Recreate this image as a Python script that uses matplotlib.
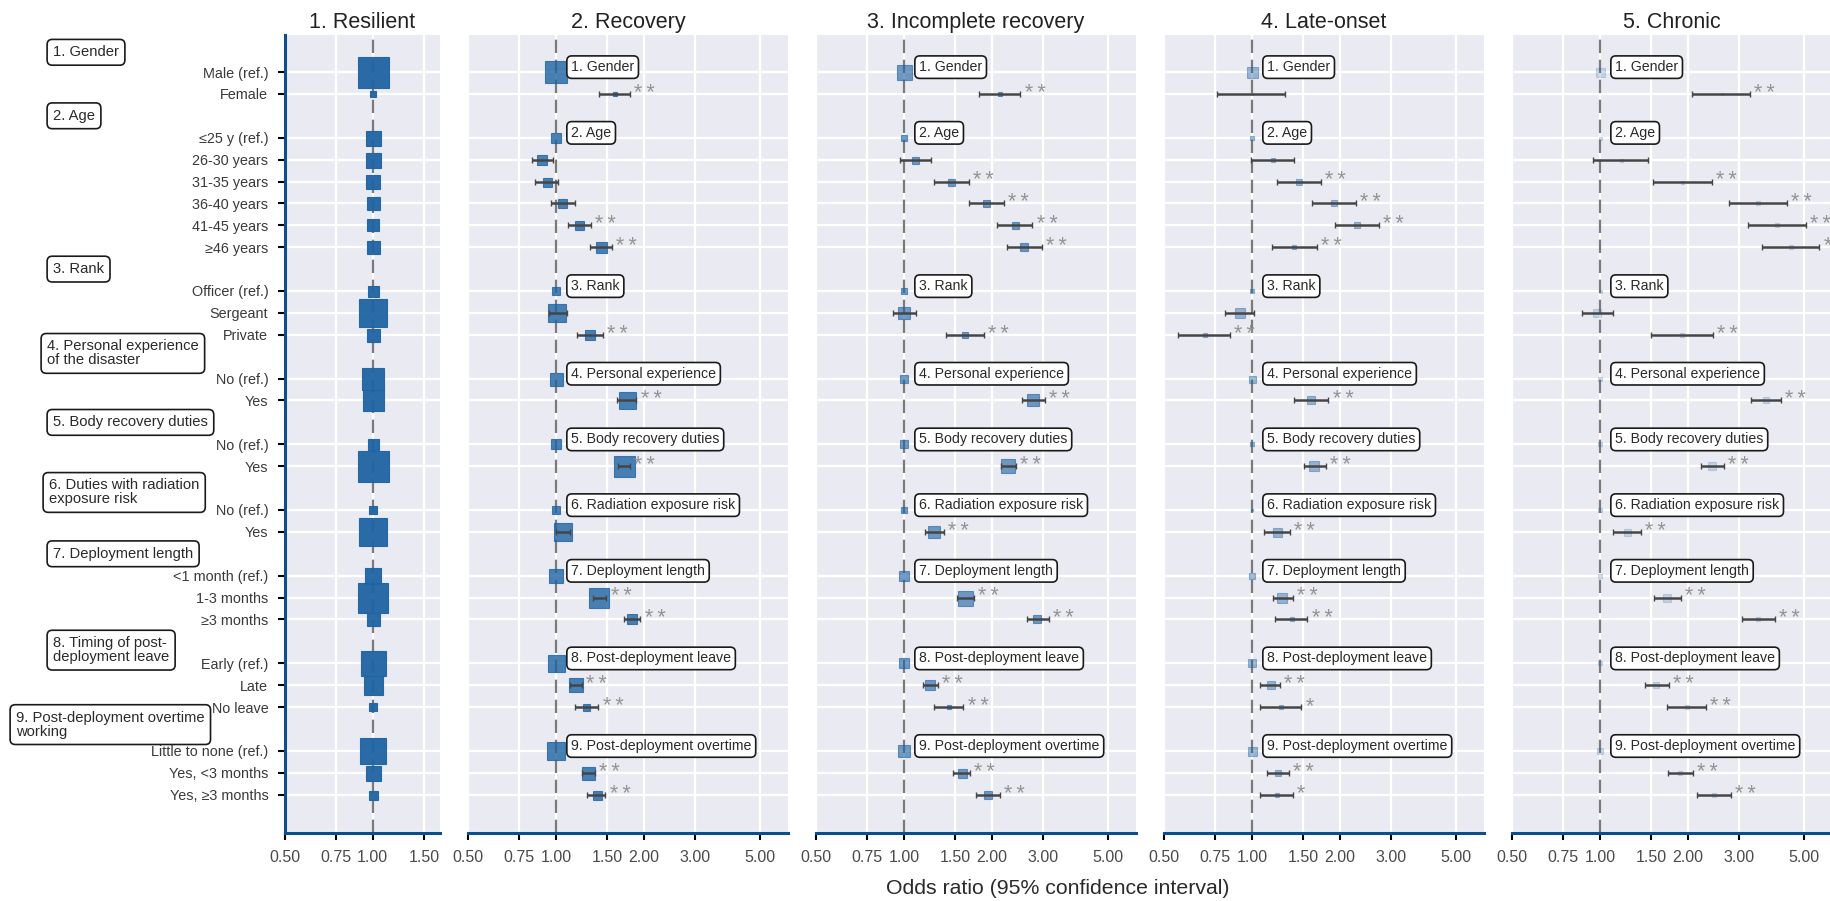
import numpy as np
import matplotlib.pyplot as plt
from matplotlib.ticker import FixedLocator, NullLocator

plt.rcParams['font.family'] = ['Liberation Sans', 'DejaVu Sans']

nan = np.nan

# ---- data -------------------------------------------------------------
groups = ["1. Gender", "2. Age", "3. Rank", "4. Personal experience",
          "5. Body recovery duties", "6. Radiation exposure risk",
          "7. Deployment length", "8. Post-deployment leave",
          "9. Post-deployment overtime"]
group_long = ["1. Gender", "2. Age", "3. Rank",
              "4. Personal experience\nof the disaster",
              "5. Body recovery duties",
              "6. Duties with radiation\nexposure risk",
              "7. Deployment length",
              "8. Timing of post-\ndeployment leave",
              "9. Post-deployment overtime\nworking"]
group_n = [2, 6, 3, 2, 2, 2, 3, 3, 3]

categories = ["Male (ref.)", "Female",
              "≤25 y (ref.)", "26-30 years", "31-35 years", "36-40 years",
              "41-45 years", "≥46 years",
              "Officer (ref.)", "Sergeant", "Private",
              "No (ref.)", "Yes",
              "No (ref.)", "Yes",
              "No (ref.)", "Yes",
              "<1 month (ref.)", "1-3 months", "≥3 months",
              "Early (ref.)", "Late", "No leave",
              "Little to none (ref.)", "Yes, <3 months", "Yes, ≥3 months"]

titles = ["1. Resilient", "2. Recovery", "3. Incomplete recovery",
          "4. Late-onset", "5. Chronic"]

# resilient class: reference, only the block sizes
res_size = [31, 6, 15, 15, 14, 13, 12, 13, 11, 28, 13, 23, 21, 11, 31, 8,
            28, 16, 30, 13, 25, 19, 8, 27, 15, 9]

rec_or = [1, 1.59, 1, 0.90, 0.93, 1.05, 1.20, 1.43, 1, 1.01, 1.31, 1, 1.75,
          1, 1.71, 1, 1.06, 1, 1.41, 1.83, 1, 1.17, 1.27, 1, 1.29, 1.38]
rec_lo = [nan, 1.41, nan, 0.83, 0.85, 0.96, 1.10, 1.31, nan, 0.945, 1.18,
          nan, 1.62, nan, 1.64, nan, 1.00, nan, 1.34, 1.71, nan, 1.12, 1.16,
          nan, 1.23, 1.28]
rec_hi = [nan, 1.80, nan, 0.98, 1.02, 1.16, 1.32, 1.56, nan, 1.09, 1.45,
          nan, 1.89, nan, 1.79, nan, 1.12, nan, 1.49, 1.95, nan, 1.23, 1.40,
          nan, 1.36, 1.48]
rec_size = [22, 5, 10, 10, 9, 9, 9, 11, 8, 18.5, 10, 13, 17, 9.5, 21, 7.5,
            17.5, 14, 20, 10, 17, 14, 7, 17.5, 13, 9]
rec_sig = ["", "**", "", "", "", "", "**", "**", "", "", "**", "", "**", "",
           "**", "", "", "", "**", "**", "", "**", "**", "", "**", "**"]

inc_or = [1, 2.13, 1, 1.09, 1.45, 1.92, 2.40, 2.59, 1, 1.00, 1.62, 1, 2.77,
          1, 2.27, 1, 1.27, 1, 1.62, 2.87, 1, 1.23, 1.43, 1, 1.58, 1.94]
inc_lo = [nan, 1.81, nan, 0.97, 1.27, 1.67, 2.09, 2.26, nan, 0.92, 1.39,
          nan, 2.54, nan, 2.15, nan, 1.18, nan, 1.52, 2.65, nan, 1.16, 1.27,
          nan, 1.48, 1.77]
inc_hi = [nan, 2.51, nan, 1.24, 1.67, 2.21, 2.76, 2.98, nan, 1.10, 1.88,
          nan, 3.05, nan, 2.43, nan, 1.37, nan, 1.74, 3.15, nan, 1.31, 1.60,
          nan, 1.69, 2.14]
inc_size = [15, 4, 6, 7, 7, 7, 7, 8, 6, 12, 6, 8, 11.5, 8, 14, 6, 11.5, 10,
            15, 8, 10.5, 10.5, 5, 11.5, 9, 8]
inc_sig = ["", "**", "", "", "**", "**", "**", "**", "", "", "**", "", "**",
           "", "**", "", "**", "", "**", "**", "", "**", "**", "", "**", "**"]

late_or = [1, 1.0, 1, 1.18, 1.45, 1.91, 2.30, 1.40, 1, 0.91, 0.69, 1, 1.60,
           1, 1.64, 1, 1.22, 1, 1.27, 1.37, 1, 1.16, 1.26, 1, 1.23, 1.22]
late_lo = [nan, 0.76, nan, 0.99, 1.22, 1.61, 1.93, 1.17, nan, 0.81, 0.56,
           nan, 1.39, nan, 1.51, nan, 1.10, nan, 1.18, 1.20, nan, 1.07, 1.07,
           nan, 1.13, 1.07]
late_hi = [nan, 1.30, nan, 1.39, 1.72, 2.28, 2.72, 1.67, nan, 1.02, 0.84,
           nan, 1.83, nan, 1.79, nan, 1.35, nan, 1.38, 1.55, nan, 1.25, 1.48,
           nan, 1.34, 1.38]
late_size = [11, 1.5, 5, 5, 6, 6, 6, 5, 5, 9.5, 3.5, 7, 8, 3.5, 10.5, 2.6, 9,
             6, 10.5, 4, 8, 8, 3.5, 9, 6, 3.5]
late_sig = ["", "", "", "", "**", "**", "**", "**", "", "", "**", "", "**",
            "", "**", "", "**", "", "**", "**", "", "**", "*", "", "**", "*"]

chr_or = [1, 2.62, 1, 1.18, 1.92, 3.49, 4.05, 4.51, 1, 0.98, 1.91, 1, 3.71,
          1, 2.43, 1, 1.24, 1, 1.70, 3.49, 1, 1.56, 1.99, 1, 1.89, 2.47]
chr_lo = [nan, 2.07, nan, 0.95, 1.52, 2.77, 3.21, 3.59, nan, 0.87, 1.50,
          nan, 3.30, nan, 2.22, nan, 1.11, nan, 1.53, 3.08, nan, 1.43, 1.70,
          nan, 1.71, 2.16]
chr_hi = [nan, 3.28, nan, 1.46, 2.43, 4.39, 5.10, 5.66, nan, 1.11, 2.44,
          nan, 4.17, nan, 2.67, nan, 1.38, nan, 1.90, 3.97, nan, 1.72, 2.31,
          nan, 2.09, 2.81]
chr_size = [9, 2, 3, 3, 3, 4, 4, 4, 3, 8, 3.5, 5, 6, 4, 8.7, 3.5, 7, 4.5, 8.7,
            4.5, 5, 6, 4.5, 6, 4.5, 3.5]
chr_sig = ["", "**", "", "", "**", "**", "**", "**", "", "", "**", "", "**",
           "", "**", "", "**", "", "**", "**", "", "**", "**", "", "**", "**"]

xticks_small = [0.5, 0.75, 1.0, 1.5]
xticks_big = [0.5, 0.75, 1.0, 1.5, 2.0, 3.0, 5.0]

# ---- layout -----------------------------------------------------------
# row positions: a blank header row before every group
rows, ref_rows, pos = [], [], 0
for g, n in enumerate(group_n):
    if g > 0:
        pos += 1
    ref_rows.append(pos)
    rows.extend(range(pos, pos + n))
    pos += n
rows = np.array(rows, dtype=float)
head_rows = [-0.9, 2, 9, 12.85, 16, 19.2, 22, 26.4, 29.8]
head_x = [53, 53, 53, 47, 53, 49, 53, 53, 16]

W, H = 1831, 901
top, bottom = 35, 833
lefts = [285, 468, 816, 1164, 1512]
widths = [155, 320, 320, 320, 320]
xmax = [1.70, 6.25, 6.25, 6.25, 6.25]
alphas = [0.95, 0.8, 0.62, 0.42, 0.2]
blue = '#1f64a3'
spine_blue = '#0d4f8e'

fig = plt.figure(figsize=(W / 100, H / 100), dpi=100)

panels = [
    (np.ones(len(categories)), None, None, res_size, None),
    (rec_or, rec_lo, rec_hi, rec_size, rec_sig),
    (inc_or, inc_lo, inc_hi, inc_size, inc_sig),
    (late_or, late_lo, late_hi, late_size, late_sig),
    (chr_or, chr_lo, chr_hi, chr_size, chr_sig),
]

for i, (orv, lo, hi, size, sig) in enumerate(panels):
    ax = fig.add_axes([lefts[i] / W, 1 - bottom / H, widths[i] / W,
                       (bottom - top) / H])
    ax.set_facecolor('#eaeaf2')
    ax.set_xscale('log')
    ax.set_xlim(0.5, xmax[i])
    ax.set_ylim(34.75, -1.69)
    ticks = xticks_small if i == 0 else xticks_big
    ax.xaxis.set_major_locator(FixedLocator(ticks))
    ax.xaxis.set_minor_locator(NullLocator())
    ax.set_xticklabels(['%.2f' % t for t in ticks])
    ax.set_yticks(rows)
    ax.grid(True, color='white', lw=1.6)
    ax.set_axisbelow(True)
    for s in ['top', 'right', 'left']:
        ax.spines[s].set_visible(False)
    ax.spines['bottom'].set_color(spine_blue)
    ax.spines['bottom'].set_linewidth(2.2)
    ax.tick_params(axis='x', length=5, width=1.5, color='black',
                   labelsize=11.5, labelcolor='#4a4a4a', pad=7)
    if i == 0:
        ax.spines['left'].set_visible(True)
        ax.spines['left'].set_color(spine_blue)
        ax.spines['left'].set_linewidth(2.2)
        ax.set_yticklabels(categories)
        ax.tick_params(axis='y', length=5, width=1.5, color='black',
                       labelsize=10.4, labelcolor='#3a3a3a', pad=7)
    else:
        ax.tick_params(axis='y', length=0, labelleft=False)

    ax.set_title(titles[i], fontsize=15.5, color='#222222', pad=5)
    ax.axvline(1, color='#7a7a7a', ls=(0, (6, 3)), lw=1.6, zorder=1.5)

    orv = np.asarray(orv, dtype=float)
    for x, y, s in zip(orv, rows, size):
        ax.plot([x], [y], ls='none', marker='s', ms=s * 0.72, color=blue,
                mec=blue, mew=0.8, alpha=alphas[i], zorder=2)

    if lo is not None:
        lo = np.asarray(lo, dtype=float)
        hi = np.asarray(hi, dtype=float)
        m = ~np.isnan(lo)
        ax.errorbar(orv[m], rows[m], xerr=[orv[m] - lo[m], hi[m] - orv[m]],
                    fmt='none', ecolor='#454545', elinewidth=1.8, capsize=2.5,
                    capthick=1.0, zorder=3)
        for x, y, s in zip(hi, rows, sig):
            if s:
                ax.annotate('\u2009'.join(s), xy=(x, y), xytext=(3, -3.5),
                            textcoords='offset points', ha='left',
                            va='baseline', fontsize=15.5, color='#939393')
        for g, r in zip(groups, ref_rows):
            ax.annotate(g, xy=(1, r), xytext=(11, 3.5),
                        textcoords='offset points', ha='left', va='center',
                        fontsize=10.2, color='#2a2a2a', zorder=5,
                        bbox=dict(boxstyle='round,pad=0.3,rounding_size=0.35',
                                  fc='white', ec='#1a1a1a', lw=1.2))
    else:
        for g, r, hx in zip(group_long, head_rows, head_x):
            ax.annotate(g, xy=(hx, r), xycoords=('figure pixels', 'data'),
                        ha='left', va='center', fontsize=10.6,
                        color='#2a2a2a', linespacing=1.0,
                        annotation_clip=False,
                        bbox=dict(boxstyle='round,pad=0.4,rounding_size=0.35',
                                  fc='white', ec='#1a1a1a', lw=1.2))

fig.text(1058 / W, 1 - 888 / H, 'Odds ratio (95% confidence interval)',
         ha='center', va='center', fontsize=15.3, color='#2a2a2a')

fig.savefig('out.png', dpi=100)
